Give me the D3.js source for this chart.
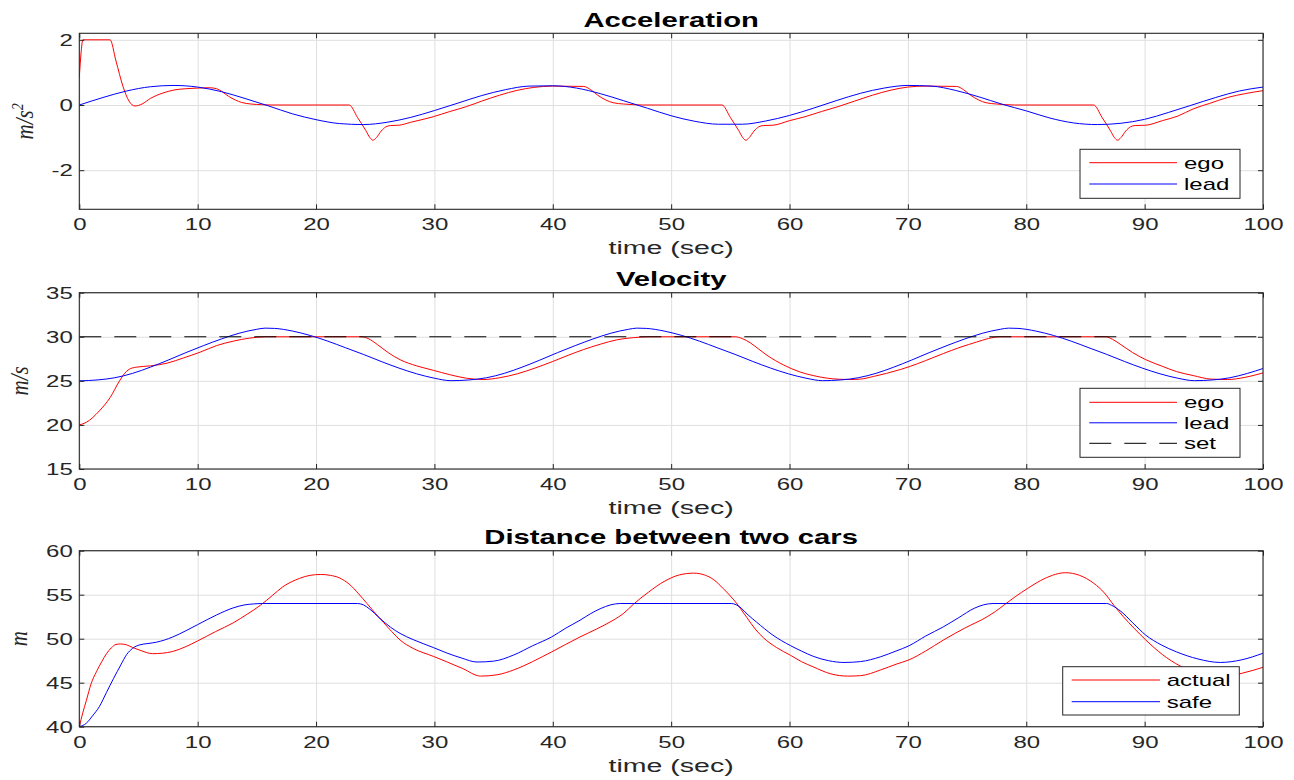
<!DOCTYPE html>
<html>
<head>
<meta charset="utf-8">
<script src="https://cdn.jsdelivr.net/npm/d3@7"></script>
<style>
  html, body { margin: 0; padding: 0; background: #ffffff; }
  svg { display: block; }
</style>
</head>
<body>
<svg id="chart" width="1294" height="780"></svg>
<script>
// ---------------- DATA ----------------
const timeDomain = [0, 100];
const timeTicks = [0, 10, 20, 30, 40, 50, 60, 70, 80, 90, 100];

const accTicks = [-2, 0, 2];
const accDomain = [-3.2, 2.2];
const velTicks = [15, 20, 25, 30, 35];
const velDomain = [15, 35];
const distTicks = [40, 45, 50, 55, 60];
const distDomain = [40, 60];

const accLegend = ["ego", "lead"];
const velLegend = ["ego", "lead", "set"];
const distLegend = ["actual", "safe"];

const titles = ["Acceleration", "Velocity", "Distance between two cars"];
const xLabel = "time (sec)";

// Acceleration - ego
const accEgoT = [0, 0.15, 0.3, 2.6, 3.1, 3.7, 4.2, 4.7, 5.3, 6, 7, 8, 9, 10, 11, 11.6, 12.1, 12.6, 13.2, 13.7, 14.5, 15.4, 16.2,
  22.8, 23.5, 24.2, 24.55, 24.8, 25.1, 25.5, 25.9, 26.3, 27.0, 28.0, 29.9, 31.3, 32.7, 34.0, 35.5, 37.0, 38.4, 40.0,
  42.6, 43.2, 43.8, 44.5, 45.1, 46.0, 46.8, 47.6,
  54.3, 55.0, 55.7, 56.05, 56.3, 56.6, 57.0, 57.4, 57.8, 58.6, 60.0, 61.3, 62.7, 64.1, 65.5, 67.0, 68.5, 70.0, 71.5,
  74.1, 74.7, 75.3, 76.0, 76.6, 77.5, 78.3, 79.0,
  85.7, 86.4, 87.1, 87.45, 87.7, 88.0, 88.4, 88.8, 89.2, 90.1, 91.5, 92.8, 94.1, 95.5, 97.0, 98.5, 100];
const accEgoV = [0.86, 1.6, 2.0, 2.0, 1.35, 0.56, 0.12, -0.03, 0.03, 0.2, 0.36, 0.46, 0.5, 0.52, 0.53, 0.5, 0.4, 0.27, 0.15, 0.08, 0.03, 0.01, 0,
  0, -0.38, -0.78, -1.0, -1.08, -1.0, -0.8, -0.67, -0.63, -0.62, -0.53, -0.36, -0.2, -0.05, 0.12, 0.3, 0.45, 0.54, 0.58,
  0.57, 0.47, 0.3, 0.15, 0.07, 0.03, 0.01, 0,
  0, -0.38, -0.78, -1.0, -1.08, -1.0, -0.8, -0.67, -0.63, -0.62, -0.48, -0.36, -0.2, -0.05, 0.12, 0.3, 0.45, 0.55, 0.58,
  0.57, 0.47, 0.3, 0.15, 0.07, 0.03, 0.01, 0,
  0, -0.38, -0.78, -1.0, -1.08, -1.0, -0.8, -0.67, -0.63, -0.62, -0.48, -0.34, -0.12, 0.05, 0.23, 0.35, 0.44];

// Acceleration - lead
const accLeadT = [0, 2, 4, 6, 8, 10, 12, 14, 16, 18, 20, 22, 24, 26, 28, 30, 32, 34, 36, 38, 40, 42, 44, 46, 48, 50,
  52, 54, 56, 58, 60, 62, 64, 66, 68, 70, 72, 74, 76, 78, 80, 82, 84, 86, 88, 90, 92, 94, 96, 98, 100];
const accLeadV = [0, 0.23, 0.43, 0.56, 0.6, 0.55, 0.41, 0.2, -0.03, -0.27, -0.45, -0.57, -0.6, -0.53, -0.38, -0.17,
  0.06, 0.29, 0.47, 0.58, 0.59, 0.52, 0.35, 0.13, -0.1, -0.33, -0.5, -0.59, -0.59, -0.49, -0.32, -0.1, 0.14, 0.36,
  0.52, 0.6, 0.58, 0.45, 0.25, 0.02, -0.18, -0.4, -0.55, -0.6, -0.56, -0.44, -0.23, 0.0, 0.23, 0.43, 0.55];

// Velocity - ego
const velEgoT = [0, 0.6, 1.7, 2.6, 3.4, 3.8, 4.2, 4.8, 6.0, 7.4, 8.8, 10.2, 11.6, 13.0, 14.4, 15.8, 23.8, 24.4, 25.2, 26.1,
  27.1, 28.5, 29.9, 31.3, 32.7, 34.1, 35.5, 37.0, 38.5, 40.0, 41.3, 42.6, 44.0, 45.4, 46.8, 48.2, 55.4, 56.0, 56.7,
  57.4, 58.1, 59.5, 60.9, 62.0, 63.2, 64.2, 65.1, 66.0, 67.1, 68.2, 69.4, 70.1, 71.5, 73.0, 74.4, 75.8, 76.8, 77.8,
  86.7, 87.3, 88.0, 89.0, 90.1, 91.4, 92.7, 94.1, 95.6, 97.0, 98.5, 100];
const velEgoV = [20.0, 20.3, 21.6, 23.1, 25.0, 25.8, 26.3, 26.55, 26.7, 27.0, 27.6, 28.25, 29.0, 29.5, 29.85, 30.0, 30.0,
  29.8, 29.1, 28.2, 27.4, 26.7, 26.2, 25.7, 25.3, 25.15, 25.35, 25.8, 26.45, 27.2, 27.9, 28.55, 29.15, 29.65, 29.9,
  30.0, 30.0, 29.8, 29.3, 28.6, 27.9, 26.8, 26.0, 25.6, 25.3, 25.18, 25.15, 25.2, 25.5, 25.85, 26.3, 26.6, 27.3,
  28.1, 28.8, 29.4, 29.8, 30.0, 30.0, 29.7, 29.1, 28.2, 27.4, 26.7, 26.05, 25.6, 25.2, 25.15, 25.4, 25.9];

// Velocity - lead
const velLeadT = [0, 1.5, 3, 4.5, 6, 7.5, 9, 10.5, 12, 13.5, 15, 15.7, 16.5, 18, 19.5, 21, 22.5, 24, 25.5, 27, 28.5, 30,
  31.4, 32.9, 34.4, 35.9, 37.4, 38.9, 40.4, 41.9, 43.4, 44.9, 46.4, 47.1, 47.9, 49.4, 50.9, 52.4, 53.9, 55.4, 56.9, 58.4, 59.9, 61.4,
  62.8, 64.3, 65.8, 67.3, 68.8, 70.3, 71.8, 73.3, 74.8, 76.3, 77.8, 78.5, 79.3, 80.8, 82.3, 83.8, 85.3, 86.8, 88.3, 89.8, 91.3, 92.8,
  94.2, 95.7, 97.2, 98.7, 100];
const velLeadV = [25.0, 25.1, 25.35, 25.85, 26.55, 27.35, 28.2, 29.0, 29.75, 30.4, 30.85, 30.98, 30.95, 30.65, 30.15, 29.5, 28.75, 28.0, 27.2, 26.45, 25.8, 25.3,
  25.02, 25.1, 25.35, 25.85, 26.55, 27.35, 28.2, 29.0, 29.75, 30.4, 30.85, 30.98, 30.95, 30.65, 30.15, 29.5, 28.75, 28.0, 27.2, 26.45, 25.8, 25.3,
  25.02, 25.1, 25.35, 25.85, 26.55, 27.35, 28.2, 29.0, 29.75, 30.4, 30.85, 30.98, 30.95, 30.65, 30.15, 29.5, 28.75, 28.0, 27.2, 26.45, 25.8, 25.3,
  25.02, 25.1, 25.35, 25.85, 26.4];

// Velocity - set speed
const velSet = 30;

// Distance - actual
const distActT = [0, 0.3, 0.6, 1.0, 1.45, 1.9, 2.3, 2.7, 3.1, 3.5, 4.0, 4.5, 5.1, 6.2, 7.0, 7.9, 9.0, 10.0, 11.5, 13.0,
  14.2, 15.3, 16.3, 17.2, 18.6, 19.5, 20.4, 21.2, 22.0, 22.8, 23.6, 24.3, 25.0, 25.7, 26.4, 27.1, 28.2, 29.9, 31.0,
  32.4, 33.9, 35.3, 36.7, 38.3, 39.9, 42.3, 43.7, 45.1, 46.0, 46.8, 48.1, 49.4, 50.7, 51.9, 52.8, 53.6, 54.4, 55.3,
  56.4, 57.1, 57.8, 58.9, 60.1, 61.0, 62.0, 63.5, 64.9, 66.0, 67.7, 69.0, 70.1, 71.5, 73.0, 74.8, 76.7, 77.4, 78.1,
  79.1, 80.1, 81.2, 82.2, 83.3, 84.5, 85.7, 86.6, 87.4, 88.2, 89.1, 90.1, 91.5, 93.0, 94.3, 95.6, 96.8, 98.3, 100];
const distActV = [40.0, 41.6, 43.0, 44.9, 46.25, 47.4, 48.3, 48.95, 49.35, 49.4, 49.3, 49.0, 48.7, 48.3, 48.35, 48.55,
  49.1, 49.75, 50.8, 51.8, 52.8, 53.8, 54.9, 55.9, 56.85, 57.2, 57.3, 57.2, 56.9, 56.2, 55.1, 54.0, 52.9, 51.85,
  50.8, 49.85, 48.9, 48.0, 47.4, 46.6, 45.75, 45.9, 46.45, 47.4, 48.5, 50.2, 51.1, 52.1, 52.9, 53.9, 55.3, 56.5,
  57.25, 57.45, 57.25, 56.7, 55.7, 54.4, 52.4, 51.1, 50.1, 49.0, 48.1, 47.4, 46.8, 46.0, 45.75, 45.8, 46.45, 47.1,
  47.6, 48.6, 49.85, 51.2, 52.5, 53.1, 53.8, 54.8, 55.7, 56.6, 57.2, 57.5, 57.2, 56.3, 55.2, 53.8, 52.5, 51.2,
  49.85, 48.2, 46.9, 46.2, 45.75, 45.7, 46.1, 46.75];

// Distance - safe
const distSafeT = [0, 0.6, 1.1, 1.7, 2.3, 2.9, 3.5, 4.0, 4.5, 5.1, 5.8, 6.5, 7.2, 7.9, 9.0, 10.0, 11.6, 13.0, 14.0,
  14.7, 15.5, 23.5, 24.0, 24.5, 25.4, 26.3, 27.1, 28.2, 29.9, 31.0, 32.3, 33.6, 35.0, 36.7, 38.3, 39.9, 41.1, 42.3,
  43.2, 44.0, 44.9, 45.7, 55.1, 55.5, 55.8, 56.5, 57.2, 58.6, 60.1, 61.0, 62.0, 63.3, 64.6, 66.0, 67.7, 69.0, 70.1,
  71.5, 73.0, 74.3, 75.6, 76.4, 77.2, 86.8, 87.2, 88.0, 89.0, 90.1, 91.4, 92.7, 94.5, 96.4, 98.2, 100];
const distSafeV = [40.0, 40.4, 41.2, 42.3, 43.9, 45.5, 47.0, 48.2, 48.9, 49.3, 49.45, 49.6, 49.85, 50.2, 50.9, 51.6,
  52.7, 53.5, 53.85, 53.95, 54.0, 54.0, 53.85, 53.4, 52.3, 51.3, 50.6, 49.9, 49.0, 48.4, 47.8, 47.35, 47.45, 48.15,
  49.2, 50.2, 51.2, 52.1, 52.85, 53.4, 53.85, 54.0, 54.0, 53.85, 53.6, 52.7, 51.9, 50.4, 49.2, 48.6, 48.0, 47.5, 47.3,
  47.4, 47.95, 48.6, 49.2, 50.3, 51.35, 52.4, 53.45, 53.85, 54.0, 54.0, 53.8, 53.1, 51.8, 50.4, 49.3, 48.5, 47.7,
  47.3, 47.6, 48.35];

// ---------------- DRAWING ----------------
const svg = d3.select("#chart");
const SANS = "'Liberation Sans', Arial, Helvetica, sans-serif";
const SERIF = "'Liberation Serif', 'Times New Roman', serif";
const SX = 1.5;              // horizontal text stretch seen in the reference
const INK = "#262626";
const GRID = "#dfdfdf";
const RED = "#ff0000";
const BLUE = "#0000ff";

const X0 = 79.3, X1 = 1263;
const x = d3.scaleLinear().domain(timeDomain).range([X0, X1]);

svg.append("rect").attr("width", 1294).attr("height", 780).attr("fill", "#fff");

function drawPanel(cfg, idx) {
  const y = d3.scaleLinear().domain(cfg.yDomain).range([cfg.bottom, cfg.top]);
  const h = cfg.bottom - cfg.top;
  const g = svg.append("g");

  const clipId = "clip" + idx;
  svg.append("clipPath").attr("id", clipId).append("rect")
    .attr("x", X0).attr("y", cfg.top).attr("width", X1 - X0).attr("height", h);

  // grid
  const gx = g.append("g").attr("transform", `translate(0,${cfg.bottom})`)
    .call(d3.axisBottom(x).tickValues(timeTicks).tickSize(-h).tickFormat(""));
  const gy = g.append("g").attr("transform", `translate(${X0},0)`)
    .call(d3.axisLeft(y).tickValues(cfg.yTicks).tickSize(-(X1 - X0)).tickFormat(""));
  [gx, gy].forEach(a => {
    a.select(".domain").remove();
    a.selectAll("line").attr("stroke", GRID).attr("stroke-width", 1);
  });

  // series
  const line = d3.line().x(d => x(d[0])).y(d => y(d[1])).curve(d3.curveMonotoneX);
  const sg = g.append("g").attr("clip-path", `url(#${clipId})`);
  cfg.series.forEach(s => {
    sg.append("path")
      .datum(d3.zip(s.t, s.v))
      .attr("fill", "none")
      .attr("stroke", s.color)
      .attr("stroke-width", 1)
      .attr("stroke-dasharray", s.dash || null)
      .attr("d", line);
  });

  // axes box + inward ticks
  const fmt = d => String(d);
  const bottomAxis = g.append("g").attr("transform", `translate(0,${cfg.bottom})`)
    .call(d3.axisBottom(x).tickValues(timeTicks).tickFormat(fmt).tickSizeInner(-5).tickSizeOuter(0).tickPadding(0));
  const topAxis = g.append("g").attr("transform", `translate(0,${cfg.top})`)
    .call(d3.axisTop(x).tickValues(timeTicks).tickSizeInner(-5).tickSizeOuter(0).tickFormat(""));
  const leftAxis = g.append("g").attr("transform", `translate(${X0},0)`)
    .call(d3.axisLeft(y).tickValues(cfg.yTicks).tickFormat(fmt).tickSizeInner(-5).tickSizeOuter(0).tickPadding(0));
  const rightAxis = g.append("g").attr("transform", `translate(${X1},0)`)
    .call(d3.axisRight(y).tickValues(cfg.yTicks).tickSizeInner(-5).tickSizeOuter(0).tickFormat(""));
  [bottomAxis, topAxis, leftAxis, rightAxis].forEach(a => {
    a.select(".domain").remove();
    a.attr("font-family", SANS).attr("font-size", 16);
    a.selectAll("line").attr("stroke", INK).attr("stroke-width", 1);
  });
  bottomAxis.selectAll("text")
    .attr("y", 21).attr("dy", 0).attr("fill", INK)
    .attr("transform", `scale(${SX},1)`);
  leftAxis.selectAll("text")
    .attr("x", 0).attr("dy", "0.36em").attr("fill", INK)
    .attr("transform", `translate(-6.5,0) scale(${SX},1)`);

  g.append("rect")
    .attr("x", X0).attr("y", cfg.top).attr("width", X1 - X0).attr("height", h)
    .attr("fill", "none").attr("stroke", INK).attr("stroke-width", 1.1);

  // title
  g.append("text")
    .attr("transform", `translate(${(X0 + X1) / 2},${cfg.top - 6.5}) scale(${SX},1)`)
    .attr("text-anchor", "middle")
    .attr("font-family", SANS).attr("font-weight", "bold").attr("font-size", 19.5)
    .attr("fill", "#000")
    .text(cfg.title);

  // x label
  g.append("text")
    .attr("transform", `translate(${(X0 + X1) / 2},${cfg.bottom + 45}) scale(${SX},1)`)
    .attr("text-anchor", "middle")
    .attr("font-family", SANS).attr("font-size", 19)
    .attr("fill", INK)
    .text(xLabel);

  // y label (rotated, italic serif)
  const yl = g.append("text")
    .attr("transform", `translate(${cfg.ylabelX},${(cfg.top + cfg.bottom) / 2}) scale(1.2,1) rotate(-90)`)
    .attr("text-anchor", "middle")
    .attr("font-family", SERIF).attr("font-style", "italic").attr("font-size", 21)
    .attr("fill", INK);
  yl.append("tspan").text(cfg.ylabel);
  if (cfg.ylabelSup) {
    yl.append("tspan").attr("font-size", 14).attr("dy", -8).text(cfg.ylabelSup);
  }

  // legend
  const L = cfg.legend;
  const lg = g.append("g");
  lg.append("rect")
    .attr("x", L.x).attr("y", L.y).attr("width", L.w).attr("height", L.h)
    .attr("fill", "#fff").attr("stroke", INK).attr("stroke-width", 1);
  cfg.series.forEach((s, i) => {
    const ry = L.y + L.firstRow + i * L.rowStep;
    lg.append("line")
      .attr("x1", L.x + L.lineX1).attr("x2", L.x + L.lineX2)
      .attr("y1", ry).attr("y2", ry)
      .attr("stroke", s.color).attr("stroke-width", 1)
      .attr("stroke-dasharray", s.dash || null);
    lg.append("text")
      .attr("transform", `translate(${L.x + L.textX},${ry + 6}) scale(${SX},1)`)
      .attr("font-family", SANS).attr("font-size", 16).attr("fill", "#000")
      .text(cfg.legendLabels[i]);
  });
}

const panels = [
  {
    top: 33.3, bottom: 209.3, yDomain: accDomain, yTicks: accTicks, title: titles[0],
    ylabel: "m/s", ylabelSup: "2", ylabelX: 33,
    series: [
      { t: accEgoT, v: accEgoV, color: RED },
      { t: accLeadT, v: accLeadV, color: BLUE }
    ],
    legendLabels: accLegend,
    legend: { x: 1080, y: 149.3, w: 160, h: 49, firstRow: 13.4, rowStep: 21.3, lineX1: 9.3, lineX2: 97, textX: 104 }
  },
  {
    top: 292.7, bottom: 469, yDomain: velDomain, yTicks: velTicks, title: titles[1],
    ylabel: "m/s", ylabelX: 28,
    series: [
      { t: velEgoT, v: velEgoV, color: RED },
      { t: velLeadT, v: velLeadV, color: BLUE },
      { t: timeDomain, v: [velSet, velSet], color: "#000", dash: "22,13" }
    ],
    legendLabels: velLegend,
    legend: { x: 1080, y: 388.3, w: 160, h: 69, firstRow: 14, rowStep: 20.5, lineX1: 9.3, lineX2: 97, textX: 104 }
  },
  {
    top: 550.7, bottom: 726.7, yDomain: distDomain, yTicks: distTicks, title: titles[2],
    ylabel: "m", ylabelX: 27,
    series: [
      { t: distActT, v: distActV, color: RED },
      { t: distSafeT, v: distSafeV, color: BLUE }
    ],
    legendLabels: distLegend,
    legend: { x: 1062.7, y: 666.7, w: 176.6, h: 48.3, firstRow: 13.3, rowStep: 21.7, lineX1: 9, lineX2: 97.3, textX: 104 }
  }
];

panels.forEach((p, i) => drawPanel(p, i));
</script>
</body>
</html>
